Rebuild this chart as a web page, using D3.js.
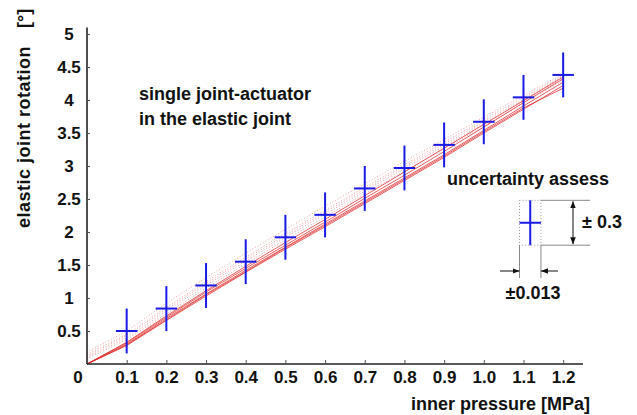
<!DOCTYPE html>
<html>
<head>
<meta charset="utf-8">
<script src="https://cdn.jsdelivr.net/npm/d3@7"></script>
<style>
  body { margin: 0; background: #fff; }
  text { font-family: "Liberation Sans", Arial, sans-serif; font-weight: bold; fill: #111; }
</style>
</head>
<body>
<svg width="637" height="415"></svg>
<script>
// pressure steps [MPa]
var pressure = [0, 0.1, 0.2, 0.3, 0.4, 0.5, 0.6, 0.7, 0.8, 0.9, 1.0, 1.1, 1.2];

// measured rotation runs (solid = loading)
var solidRuns = [
  [0, 0.28, 0.66, 1.03, 1.39, 1.74, 2.08, 2.43, 2.78, 3.13, 3.50, 3.86, 4.22],
  [0, 0.30, 0.69, 1.06, 1.42, 1.77, 2.12, 2.47, 2.82, 3.17, 3.54, 3.91, 4.27],
  [0, 0.32, 0.71, 1.09, 1.45, 1.80, 2.15, 2.51, 2.86, 3.22, 3.59, 3.96, 4.32],
  [0, 0.29, 0.67, 1.05, 1.40, 1.76, 2.10, 2.45, 2.80, 3.15, 3.52, 3.88, 4.18],
  [0, 0.33, 0.73, 1.11, 1.48, 1.84, 2.19, 2.55, 2.91, 3.27, 3.63, 3.99, 4.35]
];

// dotted = unloading runs
var dottedRuns = [
  [0.10, 0.40, 0.80, 1.19, 1.56, 1.92, 2.27, 2.62, 2.96, 3.30, 3.64, 3.99, 4.33],
  [0.15, 0.45, 0.86, 1.25, 1.62, 1.98, 2.33, 2.68, 3.02, 3.36, 3.70, 4.04, 4.38],
  [0.08, 0.37, 0.76, 1.15, 1.52, 1.88, 2.23, 2.58, 2.92, 3.26, 3.60, 3.95, 4.30],
  [0.18, 0.50, 0.92, 1.31, 1.68, 2.04, 2.39, 2.73, 3.07, 3.40, 3.74, 4.07, 4.40],
  [0.12, 0.43, 0.83, 1.22, 1.59, 1.95, 2.30, 2.65, 2.99, 3.33, 3.67, 4.01, 4.36]
];

// mean values with uncertainty crosses
var meanX = [0.1, 0.2, 0.3, 0.4, 0.5, 0.6, 0.7, 0.8, 0.9, 1.0, 1.1, 1.2];
var meanY = [0.50, 0.84, 1.19, 1.55, 1.92, 2.26, 2.66, 2.97, 3.32, 3.67, 4.04, 4.38];
var errX = 0.027;
var errY = 0.34;

var xTicks = [0.1, 0.2, 0.3, 0.4, 0.5, 0.6, 0.7, 0.8, 0.9, 1.0, 1.1, 1.2];
var yTicks = [0.5, 1, 1.5, 2, 2.5, 3, 3.5, 4, 4.5, 5];

var svg = d3.select("svg");

var x = d3.scaleLinear().domain([0, 1.25]).range([87, 583]);
var y = d3.scaleLinear().domain([0, 5.1]).range([364, 27.4]);

var blue = "#1a1ae6";
var red = "#e02a2a";

// dotted runs
var line = d3.line()
  .x(function (d, i) { return x(pressure[i]); })
  .y(function (d) { return y(d); });

svg.append("g").selectAll("path")
  .data(dottedRuns)
  .enter()
  .append("path")
  .attr("d", line)
  .attr("fill", "none")
  .attr("stroke", "#f07a7a")
  .attr("stroke-width", 1)
  .attr("stroke-dasharray", "1,2")
  .attr("opacity", 0.7);

svg.append("g").selectAll("path")
  .data(solidRuns)
  .enter()
  .append("path")
  .attr("d", line)
  .attr("fill", "none")
  .attr("stroke", red)
  .attr("stroke-width", 1)
  .attr("opacity", 0.75);

// axes
var xAxis = d3.axisBottom(x)
  .tickValues(xTicks)
  .tickSize(-4)
  .tickPadding(7)
  .tickFormat(d3.format(".1f"));

var yAxis = d3.axisLeft(y)
  .tickValues(yTicks)
  .tickSize(-3)
  .tickPadding(18)
  .tickFormat(function (d) { return String(d); });

var gx = svg.append("g")
  .attr("transform", "translate(0," + y(0) + ")")
  .call(xAxis);
var gy = svg.append("g")
  .attr("transform", "translate(" + x(0) + ",0)")
  .call(yAxis);

[gx, gy].forEach(function (g) {
  g.select(".domain").attr("stroke", "#222").attr("stroke-width", 1.6);
  g.selectAll(".tick line").attr("stroke", "#555");
  g.selectAll(".tick text")
    .attr("font-size", 17)
    .attr("font-weight", "bold")
    .attr("fill", "#111")
    .attr("font-family", "Liberation Sans, Arial, sans-serif");
});
gy.selectAll(".tick text").attr("text-anchor", "middle");
gx.select(".domain").attr("d", "M" + x(0) + ",0H" + x(1.25));
gy.select(".domain").attr("d", "M0," + y(0) + "V" + y(5.1));

svg.append("text")
  .attr("x", x(0) - 9)
  .attr("y", 383)
  .attr("text-anchor", "middle")
  .attr("font-size", 17)
  .text("0");

// crosses
var crosses = svg.append("g").selectAll("g")
  .data(meanX)
  .enter()
  .append("g");
crosses.append("line")
  .attr("x1", function (d) { return x(d); })
  .attr("x2", function (d) { return x(d); })
  .attr("y1", function (d, i) { return y(meanY[i] - errY); })
  .attr("y2", function (d, i) { return y(meanY[i] + errY); })
  .attr("stroke", blue)
  .attr("stroke-width", 2);
crosses.append("line")
  .attr("x1", function (d) { return x(d - errX); })
  .attr("x2", function (d) { return x(d + errX); })
  .attr("y1", function (d, i) { return y(meanY[i]); })
  .attr("y2", function (d, i) { return y(meanY[i]); })
  .attr("stroke", blue)
  .attr("stroke-width", 2);

// axis titles
svg.append("text")
  .attr("x", 590)
  .attr("y", 410)
  .attr("text-anchor", "end")
  .attr("font-size", 18)
  .text("inner pressure [MPa]");

svg.append("text")
  .attr("transform", "translate(30,228) rotate(-90)")
  .attr("text-anchor", "start")
  .attr("font-size", 18)
  .attr("letter-spacing", 0.5)
  .text("elastic joint rotation");
svg.append("text")
  .attr("transform", "translate(30,28) rotate(-90)")
  .attr("text-anchor", "start")
  .attr("font-size", 18)
  .text("[°]");

// annotation
svg.append("text").attr("x", 139).attr("y", 100).attr("font-size", 18)
  .text("single joint-actuator");
svg.append("text").attr("x", 139).attr("y", 125).attr("font-size", 18)
  .text("in the elastic joint");

// uncertainty legend
var lx = 1.117, ly = 2.14;
var leg = svg.append("g");
leg.append("text").attr("x", 447).attr("y", 185).attr("font-size", 18)
  .text("uncertainty assess");

var bx0 = x(lx - errX), bx1 = x(lx + errX);
var by0 = y(ly + errY), by1 = y(ly - errY);
leg.append("rect")
  .attr("x", bx0).attr("y", by0)
  .attr("width", bx1 - bx0).attr("height", by1 - by0)
  .attr("fill", "none").attr("stroke", "#999")
  .attr("stroke-dasharray", "1,2");
leg.append("line").attr("x1", x(lx)).attr("x2", x(lx)).attr("y1", by0).attr("y2", by1)
  .attr("stroke", blue).attr("stroke-width", 2);
leg.append("line").attr("x1", bx0).attr("x2", bx1).attr("y1", y(ly)).attr("y2", y(ly))
  .attr("stroke", blue).attr("stroke-width", 2);

var gray = "#888";
leg.append("line").attr("x1", bx1).attr("x2", 590).attr("y1", by0).attr("y2", by0).attr("stroke", gray);
leg.append("line").attr("x1", bx1).attr("x2", 590).attr("y1", by1).attr("y2", by1).attr("stroke", gray);
leg.append("line").attr("x1", bx0).attr("x2", bx0).attr("y1", by1).attr("y2", 278).attr("stroke", gray);
leg.append("line").attr("x1", bx1).attr("x2", bx1).attr("y1", by1).attr("y2", 278).attr("stroke", gray);

var defs = svg.append("defs");
defs.append("marker")
  .attr("id", "arr")
  .attr("viewBox", "0 0 10 10")
  .attr("refX", 10).attr("refY", 5)
  .attr("markerWidth", 7).attr("markerHeight", 7)
  .attr("markerUnits", "userSpaceOnUse")
  .attr("orient", "auto")
  .append("path").attr("d", "M0,1L10,5L0,9Z").attr("fill", "#111");

// vertical double arrow
var ax = 573;
leg.append("line").attr("x1", ax).attr("x2", ax).attr("y1", y(ly)).attr("y2", by0 + 1)
  .attr("stroke", "#111").attr("marker-end", "url(#arr)");
leg.append("line").attr("x1", ax).attr("x2", ax).attr("y1", y(ly)).attr("y2", by1 - 1)
  .attr("stroke", "#111").attr("marker-end", "url(#arr)");
leg.append("text").attr("x", 582).attr("y", 228).attr("font-size", 18)
  .attr("xml:space", "preserve").text("± 0.3");

// horizontal arrows
var ay = 271;
leg.append("line").attr("x1", 500).attr("x2", bx0).attr("y1", ay).attr("y2", ay)
  .attr("stroke", "#111").attr("marker-end", "url(#arr)");
leg.append("line").attr("x1", 558).attr("x2", bx1).attr("y1", ay).attr("y2", ay)
  .attr("stroke", "#111").attr("marker-end", "url(#arr)");
leg.append("text").attr("x", 533).attr("y", 299).attr("text-anchor", "middle")
  .attr("font-size", 18).text("±0.013");
</script>
</body>
</html>
